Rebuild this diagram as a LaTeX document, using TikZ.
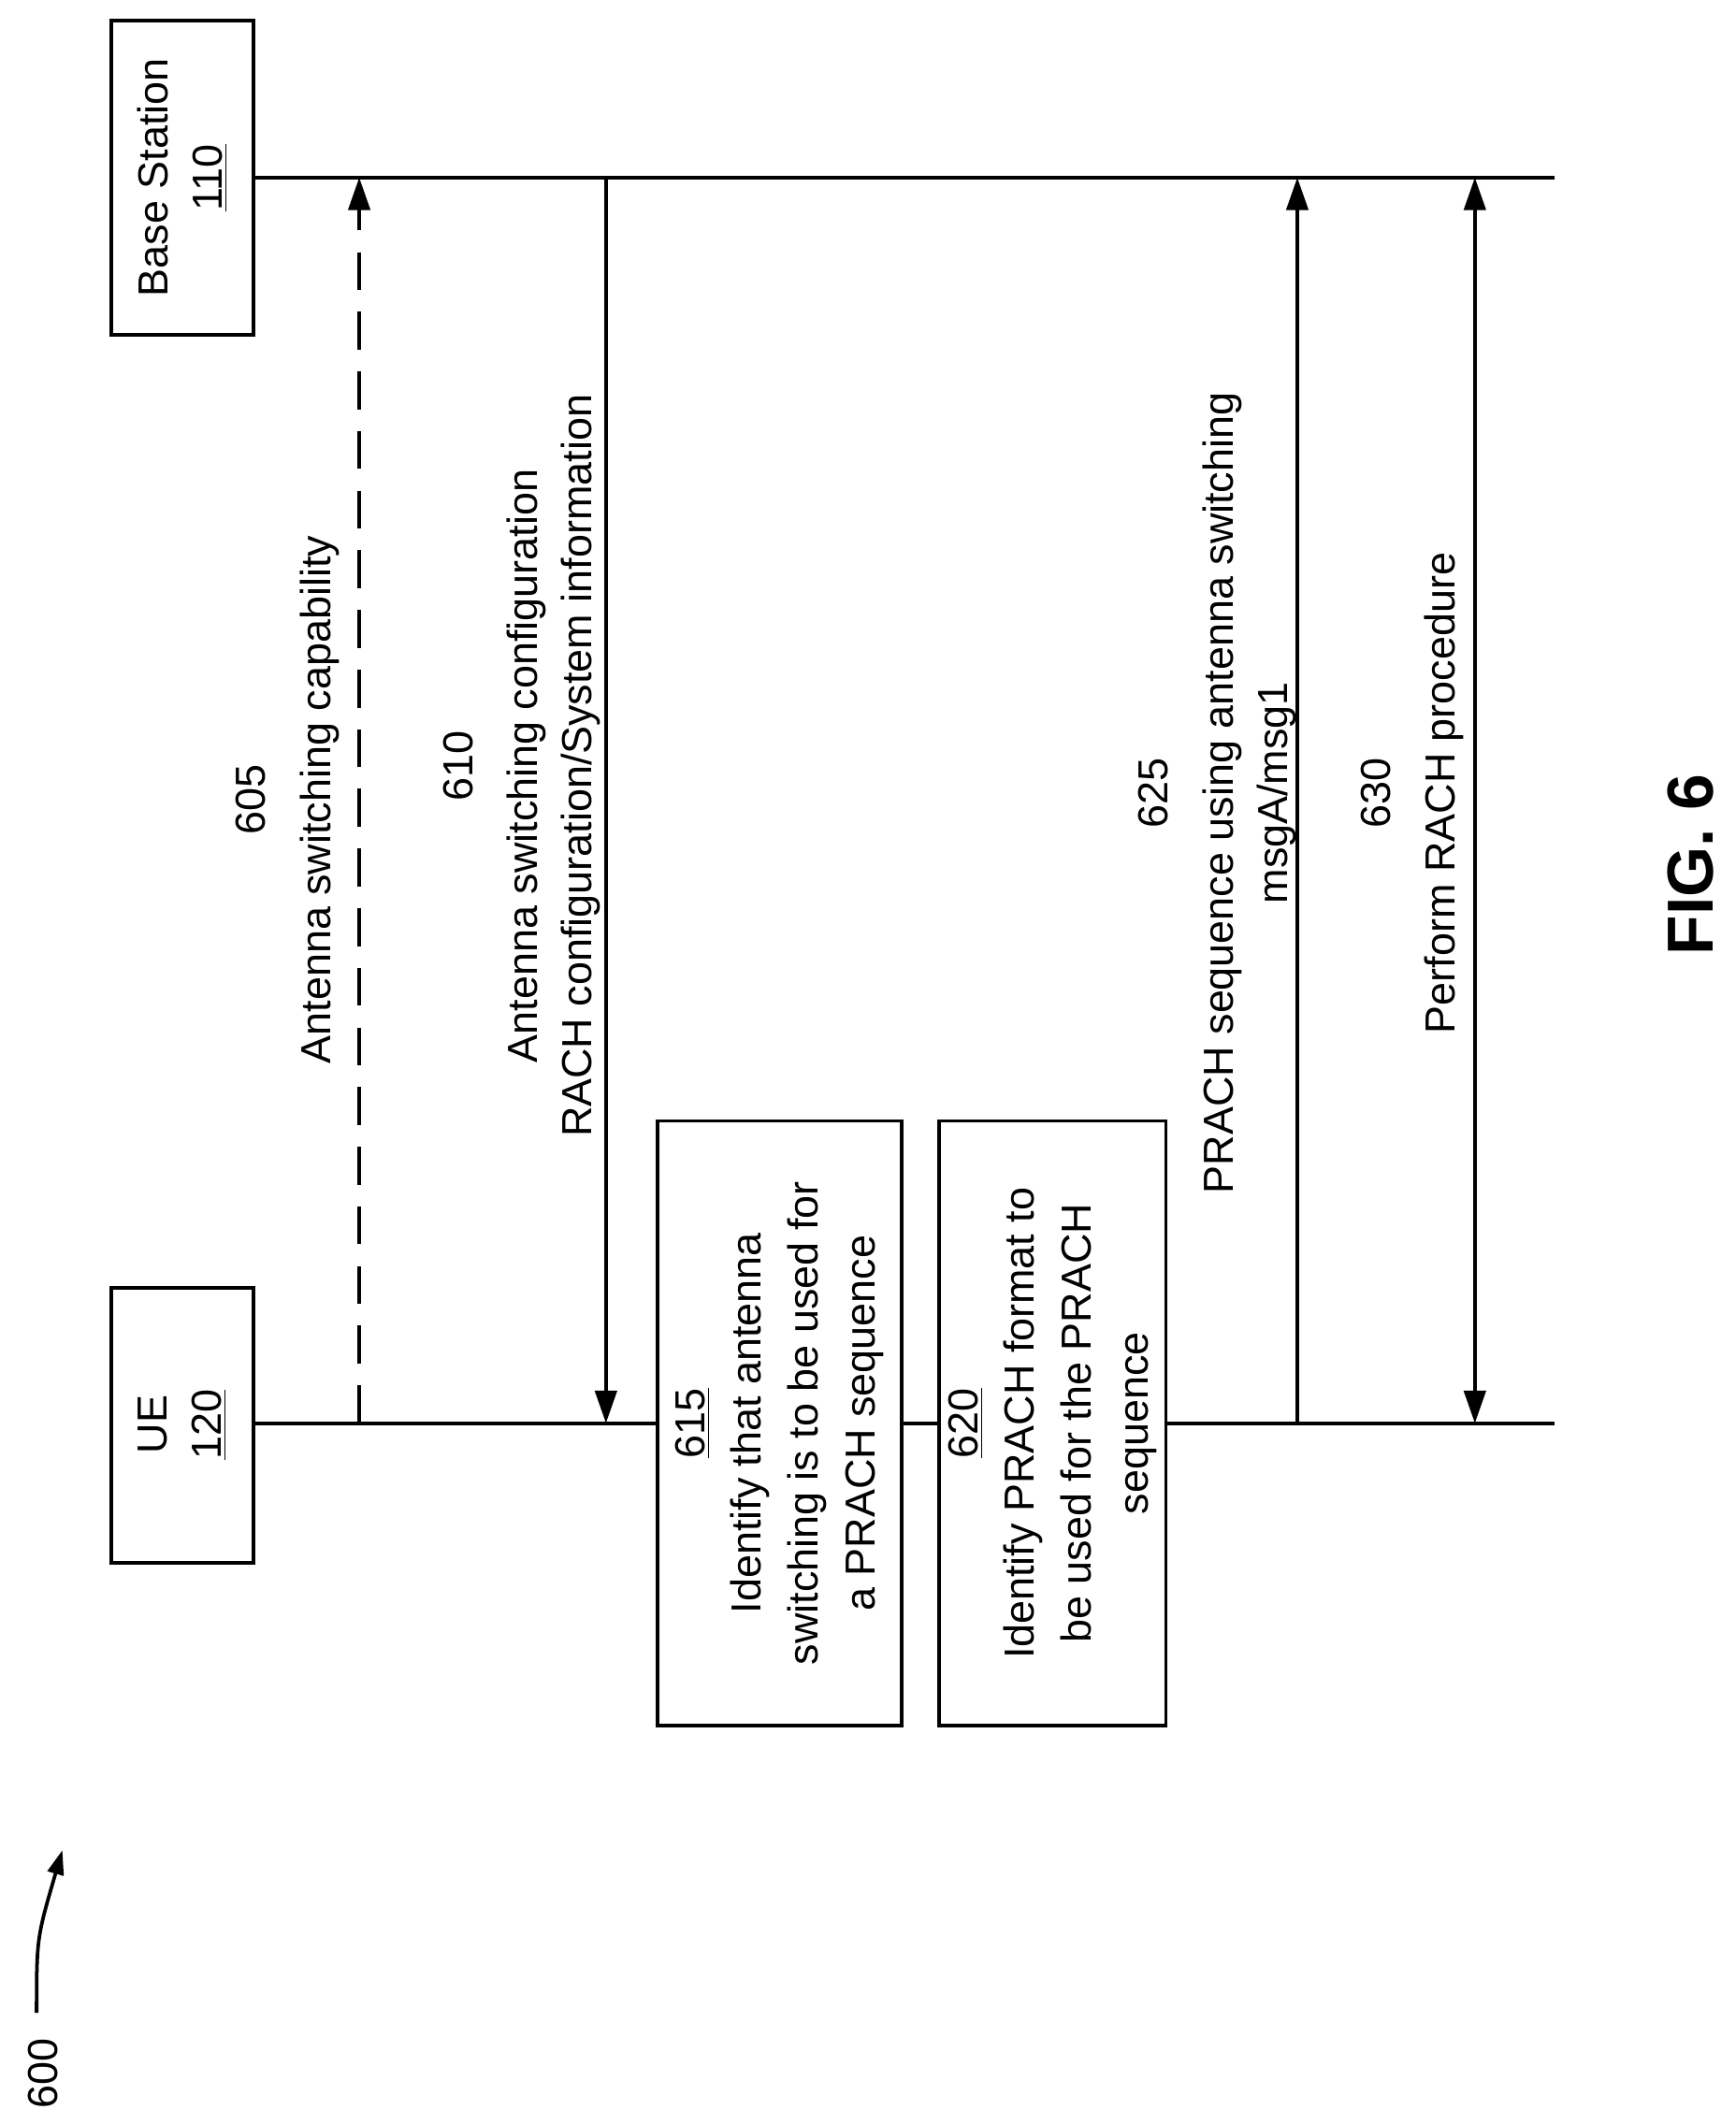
\documentclass[tikz,border=0pt]{standalone}
\usepackage{fontspec}
\setmainfont{Liberation Sans}
\usetikzlibrary{arrows.meta}
\begin{document}
\begin{tikzpicture}[x=0.5pt,y=-0.5pt,
  box/.style={draw,line width=1.3pt},
  lbl/.style={rotate=90,align=center,font=\fontsize{15.5}{20}\selectfont},
  ln/.style={line width=1.3pt},
  arr/.style={ln,-{Triangle[length=12pt,width=8pt]}}]
\useasboundingbox (0,0) rectangle (1280,1567);
% boxes
\draw[box] (82,15) rectangle (187,247);
\node[lbl] (bs) at (134.5,131) {Base Station\\\underline{110}};
\draw[box] (82,950) rectangle (187,1153);
\node[lbl] (ue) at (134.5,1051) {UE\\\underline{120}};
% lifelines
\coordinate (b0) at (187,131); \coordinate (b1) at (1147,131);
\draw[ln] (b0) -- (b1);
\draw[ln] (187,1050) -- (485,1050);
\draw[ln] (665,1050) -- (693,1050);
\draw[ln] (860,1050) -- (1147,1050);
% arrows
\coordinate (a1) at (265,1050); \coordinate (a1t) at (265,131);
\draw[arr,dash pattern=on 14pt off 8pt] (a1) -- (a1t);
\coordinate (a2) at (447,131); \coordinate (a2t) at (447,1050);
\draw[arr] (a2) -- (a2t);
\coordinate (a3) at (957,1050); \coordinate (a3t) at (957,131);
\draw[arr] (a3) -- (a3t);
\coordinate (a4) at (1088,1050); \coordinate (a4t) at (1088,131);
\draw[ln,{Triangle[length=12pt,width=8pt]}-{Triangle[length=12pt,width=8pt]}] (a4) -- (a4t);
% process boxes
\draw[box,fill=white] (485,827) rectangle (665,1273);
\node[lbl,font=\fontsize{15.5}{21}\selectfont] (p615) at (575,1050) {\underline{615}\\Identify that antenna\\switching is to be used for\\a PRACH sequence};
\draw[box,fill=white] (693,827) rectangle (860,1273);
\node[lbl,font=\fontsize{15.5}{21}\selectfont] (p620) at (776.5,1050) {\underline{620}\\Identify PRACH format to\\be used for the PRACH\\sequence};
% labels
\node[lbl] (l605) at (212,590) {605\\[4pt]Antenna switching capability};
\node[lbl] (l610) at (385,565) {610\\[4pt]Antenna switching configuration\\RACH configuration/System information};
\node[lbl] (l625) at (898,585) {625\\[4pt]PRACH sequence using antenna switching\\msgA/msg1};
\node[lbl] (l630) at (1042,585) {630\\[4pt]Perform RACH procedure};
\node[rotate=90,font=\fontsize{24}{28}\selectfont\bfseries] (fig) at (1247,638) {FIG. 6};
\node[rotate=90,font=\fontsize{15.5}{20}\selectfont] (n600) at (32,1530) {600};
\coordinate (c0) at (27,1485); \coordinate (c1) at (46,1365);
\draw[line width=1.3pt,-{Triangle[length=9pt,width=6pt]}] (c0) .. controls (27,1430) .. (c1);
\end{tikzpicture}
\end{document}
